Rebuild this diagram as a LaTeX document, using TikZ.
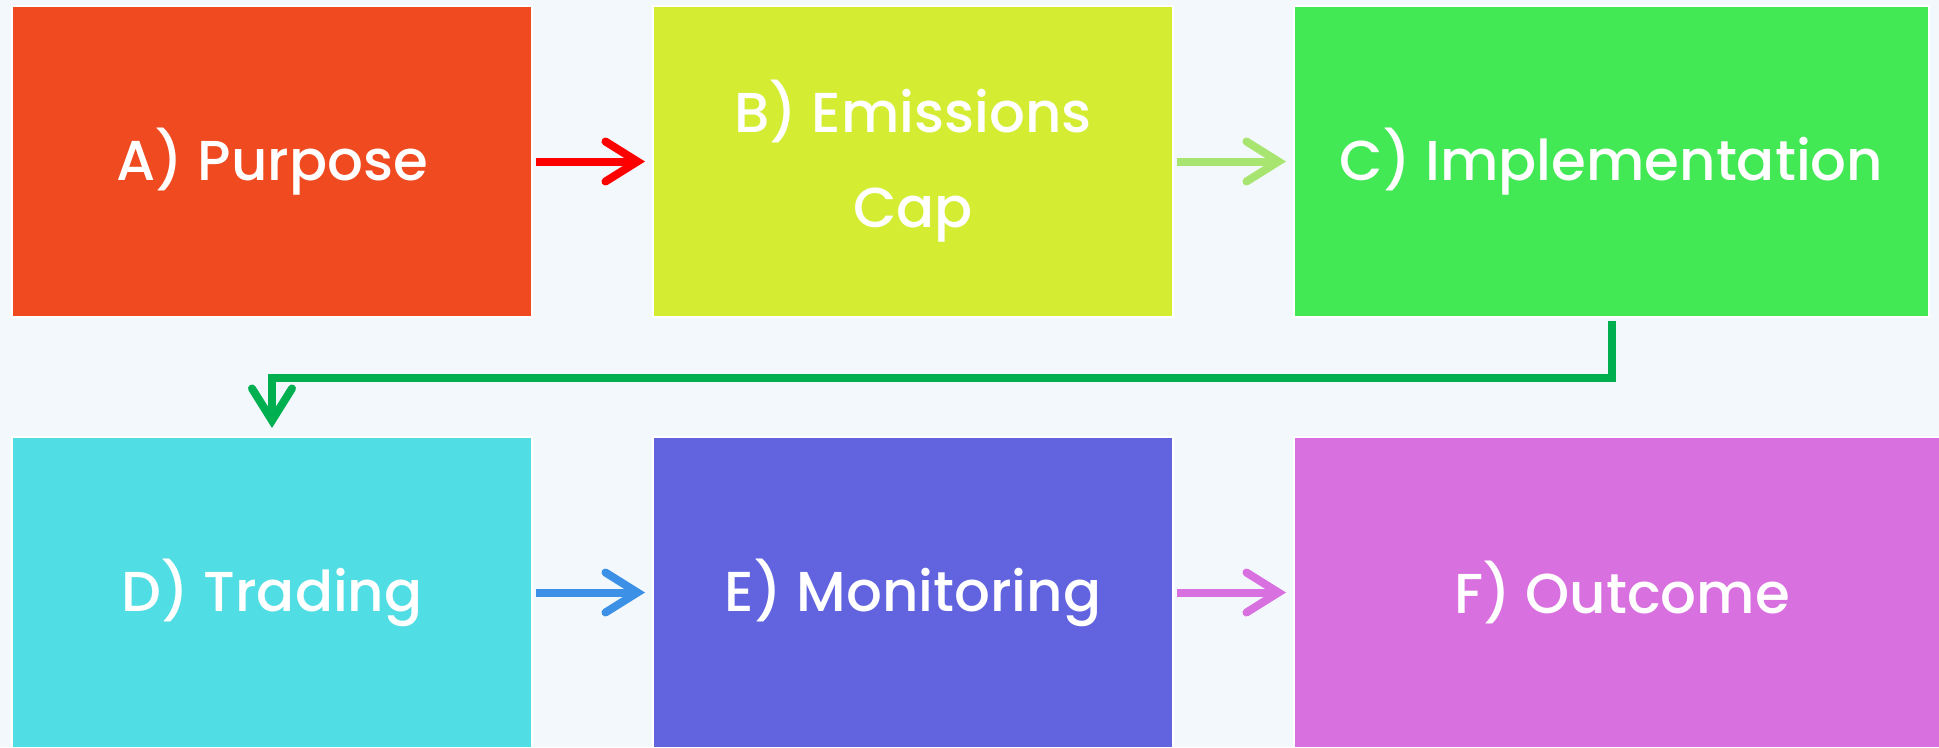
\documentclass[tikz,border=0pt]{standalone}
\usepackage{fontspec}
\setmainfont{Poppins}[UprightFont=* Medium]
\usetikzlibrary{arrows.meta, positioning}

\definecolor{bgcol}{HTML}{F3F8FC}
\definecolor{colA}{HTML}{F04A20}
\definecolor{colB}{HTML}{D4EC31}
\definecolor{colC}{HTML}{43E855}
\definecolor{colD}{HTML}{50DDE3}
\definecolor{colE}{HTML}{6264DF}
\definecolor{colF}{HTML}{D970DF}
\definecolor{arrAB}{HTML}{FF0000}
\definecolor{arrBC}{HTML}{A8E570}
\definecolor{arrCD}{HTML}{00B050}
\definecolor{arrDE}{HTML}{3C91E6}

\begin{document}
\begin{tikzpicture}[>={Straight Barb[length=3.2mm, width=4mm, line cap=round]}, node distance=1.21cm,
  every node/.style={rectangle, draw=white, line width=0.6pt, outer sep=0pt, minimum width=5.2cm, minimum height=3.11cm,
    text=white, align=center, font=\fontsize{16}{27}\selectfont},
  link/.style={->, line width=0.8mm, shorten <=0.4mm, shorten >=0.8mm}]

% Canvas
\fill[bgcol] (0,0) rectangle (19.39,-7.47);
\useasboundingbox (0,0) rectangle (19.39,-7.47);

% Top row
\node[fill=colA, anchor=north west] (a) at (0.12,-0.06) {A) Purpose};
\node[fill=colB, right=of a] (b) {B) Emissions\\Cap};
\node[fill=colC, right=of b, minimum width=6.35cm] (c) {C) Implementation};

% Bottom row
\node[fill=colD, below=1.2cm of a] (d) {D) Trading};
\node[fill=colE, right=of d] (e) {E) Monitoring};
\node[fill=colF, right=of e, minimum width=6.56cm] (f) {F) Outcome};

% Arrows
\draw[link, arrAB] (a) -- (b);
\draw[link, arrBC] (b) -- (c);
\draw[link, arrCD, shorten >=0.9mm] (c.south) -- ++(0,-0.61) -| (d.north);
\draw[link, arrDE] (d) -- (e);
\draw[link, colF] (e) -- (f);

\end{tikzpicture}
\end{document}
